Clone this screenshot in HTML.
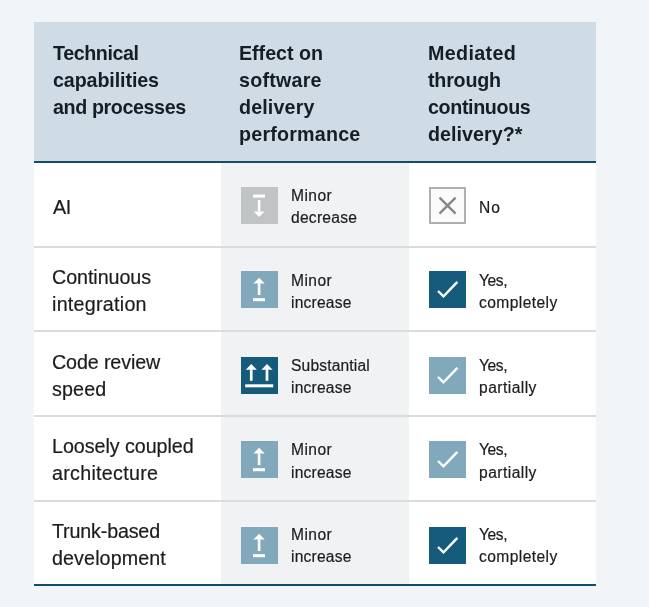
<!DOCTYPE html>
<html><head><meta charset="utf-8">
<style>
*{margin:0;padding:0;box-sizing:border-box}
html,body{width:649px;height:607px;overflow:hidden;background:#f1f5f8}
body{position:relative;font-family:"Liberation Sans",sans-serif;color:#1c1c1c}
.a{position:absolute}
.hdr{left:34px;top:22px;width:562px;height:139px;background:#cfdce5}
.hb{left:34px;top:161px;width:562px;height:2px;background:#124c66}
.body{left:34px;top:163px;width:562px;height:421px;background:#fff}
.mid{left:221px;top:163px;width:188px;height:421px;background:#f1f2f4}
.sep{left:34px;width:562px;height:2px;background:#dadbdc}
.bb{left:34px;top:584px;width:562px;height:2px;background:#124c66}
.h{font-weight:bold;font-size:19.7px;color:#141e27}
.t1{font-size:19.7px;-webkit-text-stroke:0.2px #1c1c1c}
.t2{font-size:15.6px;-webkit-text-stroke:0.2px #1c1c1c}
.ic{width:37px;height:37px}
.l{white-space:nowrap;line-height:30px;will-change:transform}
</style></head><body>
<div class="a hdr"></div>
<div class="a body"></div>
<div class="a mid"></div>
<div class="a hb"></div>
<div class="a sep" style="top:246px"></div>
<div class="a sep" style="top:330px"></div>
<div class="a sep" style="top:415px"></div>
<div class="a sep" style="top:500px"></div>
<div class="a bb"></div>

<div class="a l h" style="left:52.6px;top:38px;letter-spacing:-0.411px">Technical</div>
<div class="a l h" style="left:52.6px;top:65px;letter-spacing:-0.108px">capabilities</div>
<div class="a l h" style="left:52.6px;top:92px;letter-spacing:-0.392px">and processes</div>
<div class="a l h" style="left:239.4px;top:38px;letter-spacing:-0.036px">Effect on</div>
<div class="a l h" style="left:239.4px;top:65px;letter-spacing:0.229px">software</div>
<div class="a l h" style="left:239.4px;top:92px;letter-spacing:0.143px">delivery</div>
<div class="a l h" style="left:239.4px;top:119px;letter-spacing:0.2px">performance</div>
<div class="a l h" style="left:427.6px;top:38px;letter-spacing:0.357px">Mediated</div>
<div class="a l h" style="left:427.6px;top:65px;letter-spacing:-0.217px">through</div>
<div class="a l h" style="left:427.6px;top:92px;letter-spacing:-0.366px">continuous</div>
<div class="a l h" style="left:427.6px;top:119px;letter-spacing:0.045px">delivery?*</div>
<div class="a l t1" style="left:52.5px;top:192px;letter-spacing:-0.3px">AI</div>
<div class="a l t1" style="left:52.3px;top:262px;letter-spacing:-0.056px">Continuous</div>
<div class="a l t1" style="left:52.3px;top:289px;letter-spacing:0.26px">integration</div>
<div class="a l t1" style="left:52.3px;top:347px;letter-spacing:-0.12px">Code review</div>
<div class="a l t1" style="left:52.3px;top:374px;letter-spacing:0.15px">speed</div>
<div class="a l t1" style="left:52.3px;top:431px;letter-spacing:-0.042px">Loosely coupled</div>
<div class="a l t1" style="left:52.3px;top:458px;letter-spacing:0.282px">architecture</div>
<div class="a l t1" style="left:52.3px;top:516px;letter-spacing:-0.17px">Trunk-based</div>
<div class="a l t1" style="left:52.3px;top:543px;letter-spacing:0.11px">development</div>
<div class="a l t2" style="left:290.8px;top:181px;letter-spacing:0.45px">Minor</div>
<div class="a l t2" style="left:290.8px;top:203px;letter-spacing:0.257px">decrease</div>
<div class="a l t2" style="left:290.8px;top:266px;letter-spacing:0.45px">Minor</div>
<div class="a l t2" style="left:290.8px;top:288px;letter-spacing:0.214px">increase</div>
<div class="a l t2" style="left:290.8px;top:351px;letter-spacing:0.16px">Substantial</div>
<div class="a l t2" style="left:290.8px;top:373px;letter-spacing:0.214px">increase</div>
<div class="a l t2" style="left:290.8px;top:435px;letter-spacing:0.45px">Minor</div>
<div class="a l t2" style="left:290.8px;top:458px;letter-spacing:0.214px">increase</div>
<div class="a l t2" style="left:290.8px;top:520px;letter-spacing:0.45px">Minor</div>
<div class="a l t2" style="left:290.8px;top:542px;letter-spacing:0.214px">increase</div>
<div class="a l t2" style="left:478.5px;top:193px;letter-spacing:1.0px">No</div>
<div class="a l t2" style="left:478.5px;top:266px;letter-spacing:-0.433px">Yes,</div>
<div class="a l t2" style="left:478.5px;top:288px;letter-spacing:0.411px">completely</div>
<div class="a l t2" style="left:478.5px;top:351px;letter-spacing:-0.433px">Yes,</div>
<div class="a l t2" style="left:478.5px;top:373px;letter-spacing:0.461px">partially</div>
<div class="a l t2" style="left:478.5px;top:435px;letter-spacing:-0.433px">Yes,</div>
<div class="a l t2" style="left:478.5px;top:458px;letter-spacing:0.461px">partially</div>
<div class="a l t2" style="left:478.5px;top:520px;letter-spacing:-0.433px">Yes,</div>
<div class="a l t2" style="left:478.5px;top:542px;letter-spacing:0.411px">completely</div>

<!-- effect icons -->
<svg class="a ic" style="left:241px;top:187px" viewBox="0 0 37 37"><rect width="37" height="37" fill="#c0c4c5"/><rect x="12" y="7.6" width="12" height="3" fill="#fff"/><rect x="16.8" y="13" width="2.6" height="11.6" fill="#fff"/><path d="M12.7 24.4H23.5L18.1 30.1Z" fill="#fff"/></svg>
<svg class="a ic" style="left:241px;top:271px" viewBox="0 0 37 37"><rect width="37" height="37" fill="#82a8bb"/><path d="M18.1 6.7L23.7 12.6H12.5Z" fill="#fff"/><rect x="16.8" y="12.4" width="2.6" height="11.6" fill="#fff"/><rect x="12" y="27.2" width="12" height="3" fill="#fff"/></svg>
<svg class="a ic" style="left:241px;top:357px" viewBox="0 0 37 37"><rect width="37" height="37" fill="#155b7b"/><path d="M10.25 7L15.8 12.8H4.7Z M26 7L31.6 12.8H20.4Z" fill="#fff"/><rect x="8.9" y="12.6" width="2.7" height="11.2" fill="#fff"/><rect x="24.65" y="12.6" width="2.7" height="11.2" fill="#fff"/><rect x="4.2" y="27.3" width="28" height="3" fill="#fff"/></svg>
<svg class="a ic" style="left:241px;top:441px" viewBox="0 0 37 37"><rect width="37" height="37" fill="#82a8bb"/><path d="M18.1 6.7L23.7 12.6H12.5Z" fill="#fff"/><rect x="16.8" y="12.4" width="2.6" height="11.6" fill="#fff"/><rect x="12" y="27.2" width="12" height="3" fill="#fff"/></svg>
<svg class="a ic" style="left:241px;top:527px" viewBox="0 0 37 37"><rect width="37" height="37" fill="#82a8bb"/><path d="M18.1 6.7L23.7 12.6H12.5Z" fill="#fff"/><rect x="16.8" y="12.4" width="2.6" height="11.6" fill="#fff"/><rect x="12" y="27.2" width="12" height="3" fill="#fff"/></svg>
<!-- mediated icons -->
<svg class="a ic" style="left:429px;top:187px" viewBox="0 0 37 37"><rect x="1" y="1" width="35" height="35" fill="#fbfbfb" stroke="#adafb0" stroke-width="2"/><path d="M10.5 10.6L26.6 26.6M26.6 10.6L10.5 26.6" stroke="#838587" stroke-width="2.3" fill="none"/></svg>
<svg class="a ic" style="left:429px;top:271px" viewBox="0 0 37 37"><rect width="37" height="37" fill="#155b7b"/><path d="M9 20L14.5 25.4L28.4 10.9" stroke="#fff" stroke-width="2.4" fill="none"/></svg>
<svg class="a ic" style="left:429px;top:357px" viewBox="0 0 37 37"><rect width="37" height="37" fill="#82a8bb"/><path d="M9 20L14.5 25.4L28.4 10.9" stroke="#fff" stroke-width="2.4" fill="none"/></svg>
<svg class="a ic" style="left:429px;top:441px" viewBox="0 0 37 37"><rect width="37" height="37" fill="#82a8bb"/><path d="M9 20L14.5 25.4L28.4 10.9" stroke="#fff" stroke-width="2.4" fill="none"/></svg>
<svg class="a ic" style="left:429px;top:527px" viewBox="0 0 37 37"><rect width="37" height="37" fill="#155b7b"/><path d="M9 20L14.5 25.4L28.4 10.9" stroke="#fff" stroke-width="2.4" fill="none"/></svg>
</body></html>
